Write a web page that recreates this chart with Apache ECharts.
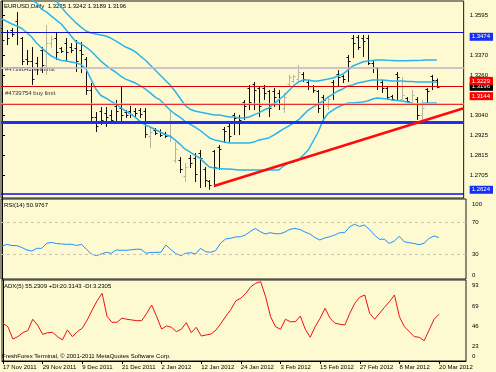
<!DOCTYPE html>
<html><head><meta charset="utf-8">
<script src="https://cdn.jsdelivr.net/npm/echarts@6/dist/echarts.min.js"></script>
<style>html,body{margin:0;padding:0;background:#FDFAD2}#c{width:496px;height:372px}</style>
</head><body><div id="c"></div>
<script>
// ---------- data ----------
const dateLabels = ['17 Nov 2011','29 Nov 2011','9 Dec 2011','21 Dec 2011','2 Jan 2012','12 Jan 2012','24 Jan 2012','3 Feb 2012','15 Feb 2012','27 Feb 2012','8 Mar 2012','20 Mar 2012'];
const dateTickIdx = [0,8,16,24,32,40,48,56,64,72,80,88];

const barOpen = [1.3525,1.3500,1.3510,1.3560,1.3465,1.3350,1.3340,1.3330,1.3400,1.3320,1.3440,1.3470,1.3410,1.3440,1.3420,1.3410,1.3400,1.3350,1.3180,1.3030,1.3060,1.3050,1.3040,1.3090,1.3080,1.3055,1.3060,1.3060,1.3065,1.3060,1.2920,1.2955,1.2950,1.2935,1.2925,1.2790,1.2790,1.2700,1.2800,1.2800,1.2830,1.2740,1.2670,1.2840,1.2860,1.2960,1.2980,1.3040,1.3030,1.3110,1.3190,1.3210,1.3190,1.3190,1.3170,1.3170,1.3160,1.3080,1.3210,1.3230,1.3240,1.3270,1.3225,1.3200,1.3170,1.3140,1.3090,1.3220,1.3270,1.3255,1.3360,1.3470,1.3475,1.3470,1.3470,1.3330,1.3300,1.3220,1.3190,1.3145,1.3270,1.3130,1.3135,1.3110,1.3130,1.3040,1.3185,1.3255,1.3235];
const barHigh = [1.3540,1.3512,1.3523,1.3612,1.3473,1.3401,1.3417,1.3362,1.3417,1.3539,1.3480,1.3495,1.3417,1.3467,1.3439,1.3456,1.3445,1.3362,1.3217,1.3056,1.3084,1.3084,1.3067,1.3123,1.3195,1.3067,1.3090,1.3078,1.3078,1.3078,1.2967,1.2967,1.2960,1.2945,1.3067,1.2889,1.2806,1.2773,1.2817,1.2828,1.2845,1.2751,1.2678,1.2845,1.2873,1.2973,1.2995,1.3051,1.3040,1.3123,1.3206,1.3223,1.3195,1.3206,1.3178,1.3189,1.3178,1.3162,1.3262,1.3262,1.3317,1.3278,1.3234,1.3206,1.3178,1.3151,1.3139,1.3234,1.3289,1.3262,1.3373,1.3484,1.3484,1.3484,1.3484,1.3345,1.3306,1.3234,1.3195,1.3151,1.3278,1.3251,1.3139,1.3178,1.3139,1.3123,1.3189,1.3262,1.3242];
const barLow = [1.3418,1.3428,1.3473,1.3428,1.3317,1.3317,1.3206,1.3262,1.3273,1.3262,1.3410,1.3345,1.3384,1.3334,1.3384,1.3278,1.3273,1.3151,1.3001,1.2945,1.2984,1.2973,1.2995,1.2995,1.3001,1.3023,1.3023,1.3028,1.3023,1.2912,1.2856,1.2928,1.2917,1.2912,1.2889,1.2773,1.2717,1.2667,1.2745,1.2667,1.2634,1.2639,1.2624,1.2639,1.2734,1.2884,1.2889,1.2928,1.2928,1.3012,1.3067,1.3067,1.3028,1.3123,1.3028,1.3084,1.3067,1.3051,1.3195,1.3217,1.3217,1.3223,1.3178,1.3162,1.3051,1.2995,1.3067,1.3123,1.3195,1.3217,1.3223,1.3356,1.3401,1.3362,1.3317,1.3273,1.3178,1.3162,1.3123,1.3123,1.3123,1.3123,1.3106,1.3095,1.3012,1.3012,1.3106,1.3178,1.3189];
const barClose = [1.3455,1.3470,1.3490,1.3500,1.3340,1.3340,1.3240,1.3300,1.3320,1.3440,1.3460,1.3390,1.3395,1.3390,1.3400,1.3340,1.3380,1.3180,1.3030,1.2980,1.3010,1.3030,1.3010,1.3060,1.3040,1.3040,1.3045,1.3050,1.3045,1.2935,1.2945,1.2940,1.2930,1.2925,1.3000,1.2850,1.2740,1.2750,1.2770,1.2710,1.2800,1.2680,1.2650,1.2750,1.2850,1.2950,1.2920,1.3020,1.3010,1.3090,1.3110,1.3180,1.3090,1.3160,1.3080,1.3140,1.3100,1.3140,1.3250,1.3255,1.3280,1.3240,1.3200,1.3180,1.3080,1.3120,1.3130,1.3200,1.3250,1.3240,1.3340,1.3440,1.3420,1.3450,1.3330,1.3300,1.3200,1.3190,1.3140,1.3130,1.3250,1.3150,1.3115,1.3150,1.3040,1.3080,1.3170,1.3235,1.3196];

const bbUpper = [1.4012,1.3984,1.3956,1.3928,1.3901,1.3873,1.3845,1.3817,1.3778,1.3745,1.3712,1.3673,1.3640,1.3606,1.3578,1.3551,1.3528,1.3506,1.3495,1.3489,1.3484,1.3478,1.3467,1.3451,1.3434,1.3417,1.3406,1.3390,1.3367,1.3345,1.3317,1.3289,1.3262,1.3234,1.3206,1.3173,1.3134,1.3095,1.3073,1.3062,1.3056,1.3051,1.3045,1.3040,1.3040,1.3034,1.3028,1.3028,1.3023,1.3023,1.3028,1.3040,1.3051,1.3067,1.3078,1.3101,1.3123,1.3145,1.3173,1.3201,1.3223,1.3234,1.3234,1.3228,1.3228,1.3234,1.3239,1.3245,1.3256,1.3267,1.3289,1.3312,1.3323,1.3334,1.3339,1.3342,1.3345,1.3345,1.3343,1.3342,1.3341,1.3341,1.3341,1.3342,1.3342,1.3343,1.3345,1.3345,1.3345];
const bbMiddle = [1.3834,1.3801,1.3773,1.3739,1.3712,1.3695,1.3678,1.3662,1.3628,1.3612,1.3589,1.3567,1.3545,1.3512,1.3478,1.3445,1.3434,1.3417,1.3395,1.3367,1.3339,1.3317,1.3295,1.3278,1.3256,1.3239,1.3228,1.3217,1.3201,1.3184,1.3162,1.3139,1.3123,1.3095,1.3067,1.3045,1.3028,1.3006,1.2989,1.2973,1.2956,1.2934,1.2912,1.2901,1.2895,1.2889,1.2884,1.2884,1.2884,1.2884,1.2884,1.2889,1.2901,1.2906,1.2912,1.2928,1.2945,1.2962,1.2978,1.2995,1.3012,1.3040,1.3067,1.3084,1.3101,1.3117,1.3139,1.3156,1.3173,1.3184,1.3201,1.3206,1.3217,1.3223,1.3228,1.3234,1.3234,1.3234,1.3231,1.3228,1.3228,1.3228,1.3226,1.3226,1.3223,1.3223,1.3223,1.3223,1.3223];
const bbLower = [1.3573,1.3559,1.3545,1.3534,1.3520,1.3498,1.3473,1.3439,1.3412,1.3389,1.3367,1.3353,1.3342,1.3339,1.3334,1.3328,1.3320,1.3295,1.3239,1.3184,1.3148,1.3134,1.3117,1.3101,1.3081,1.3062,1.3045,1.3026,1.3003,1.2984,1.2973,1.2959,1.2945,1.2931,1.2923,1.2901,1.2878,1.2851,1.2834,1.2817,1.2801,1.2775,1.2750,1.2745,1.2742,1.2739,1.2739,1.2737,1.2734,1.2734,1.2734,1.2734,1.2734,1.2734,1.2734,1.2734,1.2734,1.2756,1.2773,1.2778,1.2789,1.2817,1.2845,1.2895,1.2945,1.3012,1.3048,1.3067,1.3084,1.3095,1.3106,1.3106,1.3109,1.3112,1.3117,1.3128,1.3134,1.3131,1.3128,1.3123,1.3120,1.3117,1.3112,1.3103,1.3101,1.3103,1.3106,1.3106,1.3106];

const rsi14 = [40.4,42.3,41,40.8,38.5,35.4,34.1,37.5,37.5,43.8,44.8,43.5,42.9,42.5,42.5,41,42.5,36.3,30.4,28.3,30.4,32.5,31.3,35.4,35,35,35.6,36.3,36.3,31.3,32.3,32.5,32.5,41.6,36,31,28.3,31.3,32,30.4,37.5,33.3,32.5,34.5,43.8,49.1,50,51.6,52,54.1,58.5,62.3,58.3,55.4,57,55.8,55.6,57.9,61.3,62.3,61,57.9,55.4,51,47.9,50.4,52,54.1,57,57,64.4,67.6,64.8,66.6,61,54.1,48.8,48.8,43.5,46.6,52.5,45.6,44.5,43.5,42,43.8,49.8,52.9,50.98];
const adx5 = [49,45,31,33.8,38.3,40.6,53.7,47,36.4,38.3,38.7,33.7,30,41.4,33.7,39.5,43.4,52.9,64.4,75,83.5,57,50.2,50.2,54.9,53.7,52.9,52.1,52.1,60.6,70,57,42.5,46,44.5,39.5,42.2,49.8,38.3,44.5,34.5,35.6,36.8,41.4,49.1,57.4,65,75,77.8,83.5,91,95,96.8,79.6,56.7,45.2,42.2,53.7,50.9,50.9,57.4,42.2,33,45.2,54.9,66.3,54.9,49.1,48,47.1,60.6,72.1,79,81.6,60.6,53.7,60.6,67.5,73.9,81.6,56.7,45.2,39.5,33.7,33,29.1,41.4,53.7,59.4];

const priceTicks = [1.3595,1.3370,1.3260,1.3040,1.2925,1.2815,1.2705,1.2595];
const tagPrices = [1.3474,1.3229,1.3196,1.3144,1.2624];
const rsiTicks = [100,70,30,0];
const rsiLevels = [70,30];
const adxTicks = [93,69,46,23,0];

const levelBlueHigh = 1.3474;
const levelSellLimit = 1.3293;
const levelDashed = 1.3261;
const levelRedHigh = 1.3229;
const levelRedLow = 1.3144;
const levelBuyLimit = 1.3133;
const levelBlueMid = 1.3040;
const levelBlueLow = 1.2624;

const trendX = [42.9, 93.44];
const trendY = [1.2645, 1.3077];

// ---------- chart ----------
const FONT = '"Liberation Sans", Arial, sans-serif';
const chart = echarts.init(document.getElementById('c'), null, {renderer:'canvas'});
const XMIN = -0.2, XMAX = 93.44;
const tagStyle = ['b','r','k','r','b'];
const pair = arr => arr.map((v,i)=>[i,v]);
const gridBase = {left:1, width:465, show:true, borderColor:'#1a1a1a', borderWidth:1, backgroundColor:'transparent'};
const hideX = gi => ({type:'value', gridIndex:gi, min:XMIN, max:XMAX, show:false});
const bandStyle = {color:'#2AB4EC', width:1.5};
const lvl = (y, color, width, type) => ({yAxis:y, lineStyle:{color, width, type:type||'solid'}});
// label positions inside each indicator panel (text kept from the tick arrays)
const rsiLabelPos = rsiTicks.map(v=>Math.min(Math.max(v,4),93));
const adxLabelPos = adxTicks.map(v=>Math.max(v,10.7));
const lookup = (pos, ticks) => v => { const k = pos.findIndex(p=>Math.abs(p-v)<1e-6); return k>=0 ? String(ticks[k]) : ''; };

const option = {
  animation:false,
  backgroundColor:'#FDFAD2',
  textStyle:{fontFamily:FONT},
  grid:[
    Object.assign({top:1, height:197}, gridBase),
    Object.assign({top:199, height:80}, gridBase),
    Object.assign({top:280, height:81}, gridBase)
  ],
  xAxis:[hideX(0), hideX(1), {
    type:'value', gridIndex:2, min:XMIN, max:XMAX,
    axisLine:{show:true, lineStyle:{color:'#000'}},
    axisTick:{show:true, customValues:dateTickIdx, length:3, lineStyle:{color:'#000'}},
    axisLabel:{customValues:dateTickIdx, align:'left', margin:3, fontSize:6, color:'#000', fontFamily:FONT,
      formatter:v=>{const k=dateTickIdx.indexOf(Math.round(v)); return k>=0?dateLabels[k]:'';}},
    splitLine:{show:false}
  }],
  yAxis:[
    {type:'value', gridIndex:0, position:'right', min:1.25783, max:1.36728,
     axisLine:{show:true, lineStyle:{color:'#000'}},
     axisTick:{show:true, customValues:priceTicks, length:3, lineStyle:{color:'#000'}},
     axisLabel:{customValues:priceTicks.concat(tagPrices).sort((a,b)=>a-b), margin:6, fontSize:6, color:'#000', fontFamily:FONT,
       formatter:v=>{const k=tagPrices.findIndex(t=>Math.abs(t-v)<1e-6); const s=v.toFixed(4); return k>=0?('{'+tagStyle[k]+'|'+s+'}'):s;},
       rich:{
         b:{backgroundColor:'#1430F5', color:'#fff', fontSize:6, padding:[1,3,1,2], fontFamily:FONT},
         r:{backgroundColor:'#FF0000', color:'#fff', fontSize:6, padding:[1,3,1,2], fontFamily:FONT},
         k:{backgroundColor:'#000000', color:'#fff', fontSize:6, padding:[1,3,1,2], fontFamily:FONT}
       }},
     splitLine:{show:false}},
    {type:'value', gridIndex:1, position:'right', min:-0.875, max:99.125,
     axisLine:{show:true, lineStyle:{color:'#000'}},
     axisTick:{show:false},
     axisLabel:{customValues:rsiLabelPos, margin:6, fontSize:6, color:'#000', fontFamily:FONT,
       formatter:lookup(rsiLabelPos, rsiTicks)},
     splitLine:{show:false}},
    {type:'value', gridIndex:2, position:'right', min:5.78, max:98.77,
     axisLine:{show:true, lineStyle:{color:'#000'}},
     axisTick:{show:false},
     axisLabel:{customValues:adxLabelPos, margin:6, fontSize:6, color:'#000', fontFamily:FONT,
       formatter:lookup(adxLabelPos, adxTicks)},
     splitLine:{show:false}}
  ],
  graphic:[
    {type:'text', left:4, top:3, z:1, style:{text:'EURUSD,Daily  1.3235 1.3242 1.3189 1.3196', fill:'#000', font:'6px '+FONT}},
    {type:'text', left:5, top:66, z:1, style:{text:'#4739841 sell limit', fill:'#333', font:'6px '+FONT}},
    {type:'text', left:5, top:90, z:1, style:{text:'#4739754 buy limit', fill:'#333', font:'6px '+FONT}},
    {type:'text', left:4, top:202, z:1, style:{text:'RSI(14) 50.9767', fill:'#000', font:'6px '+FONT}},
    {type:'text', left:4, top:283, z:1, style:{text:'ADX(5) 55.2309 +DI:20.3143 -DI:3.2305', fill:'#000', font:'6px '+FONT}},
    {type:'text', left:2, top:353, z:1, style:{text:'FreshForex Terminal, \u00A9 2001-2011 MetaQuotes Software Corp.', fill:'#000', font:'6px '+FONT}}
  ],
  series:[
    {type:'line', xAxisIndex:0, yAxisIndex:0, data:[], z:1, silent:true,
     markLine:{symbol:'none', silent:true, label:{show:false}, animation:false, data:[
       lvl(levelBlueHigh,'#1010C8',1),
       lvl(levelSellLimit,'#D8A0D8',1.5),
       lvl(levelDashed,'#C8C8BE',1,[4,3]),
       lvl(levelRedHigh,'#E00000',1),
       lvl(levelBuyLimit,'#E0A8D8',1.5),
       lvl(levelRedLow,'#E83030',1),
       lvl(levelBlueMid,'#1E2EF5',3),
       lvl(levelBlueLow,'#0A0AF0',1.5)
     ]}},
    {type:'custom', xAxisIndex:0, yAxisIndex:0, z:3, clip:true,
     data:barOpen.map((o,i)=>[i,o,barHigh[i],barLow[i],barClose[i]]),
     encode:{x:0, y:[1,2,3,4]},
     renderItem:(params, api)=>{
       const i=api.value(0), o=api.value(1), h=api.value(2), l=api.value(3), c=api.value(4);
       const pH=api.coord([i,h]), pL=api.coord([i,l]), pO=api.coord([i,o]), pC=api.coord([i,c]);
       const x=Math.round(pH[0])+0.5;
       const col = c>o ? '#B8B4A2' : '#101010';
       const yo=Math.round(pO[1])+0.5, yc=Math.round(pC[1])+0.5;
       return {type:'group', children:[
         {type:'line', shape:{x1:x,y1:pH[1],x2:x,y2:pL[1]}, style:{stroke:col,lineWidth:1}},
         {type:'line', shape:{x1:x-2,y1:yo,x2:x,y2:yo}, style:{stroke:col,lineWidth:1}},
         {type:'line', shape:{x1:x,y1:yc,x2:x+2,y2:yc}, style:{stroke:col,lineWidth:1}}
       ]};
     }},
    {type:'line', xAxisIndex:0, yAxisIndex:0, z:4, data:pair(bbUpper), showSymbol:false, lineStyle:bandStyle, silent:true},
    {type:'line', xAxisIndex:0, yAxisIndex:0, z:4, data:pair(bbMiddle), showSymbol:false, lineStyle:bandStyle, silent:true},
    {type:'line', xAxisIndex:0, yAxisIndex:0, z:4, data:pair(bbLower), showSymbol:false, lineStyle:bandStyle, silent:true},
    {type:'line', xAxisIndex:0, yAxisIndex:0, z:6, data:trendX.map((x,i)=>[x,trendY[i]]), showSymbol:false, lineStyle:{color:'#FF0A0A', width:2.5}, silent:true},
    {type:'line', xAxisIndex:1, yAxisIndex:1, z:4, data:pair(rsi14), showSymbol:false, lineStyle:{color:'#1E90FF', width:1}, silent:true,
     markLine:{symbol:'none', silent:true, label:{show:false}, animation:false,
       data:rsiLevels.map(v=>({yAxis:v, lineStyle:{color:'#C8C4B0', width:1, type:[3,3]}}))}},
    {type:'line', xAxisIndex:2, yAxisIndex:2, z:4, data:pair(adx5), showSymbol:false, lineStyle:{color:'#F01010', width:1}, silent:true}
  ]
};
chart.setOption(option);
</script>
</body></html>
